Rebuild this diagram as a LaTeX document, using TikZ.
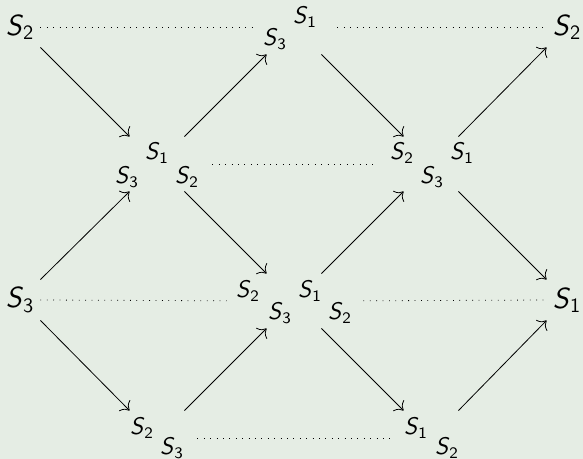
\documentclass[tikz,border=0pt]{standalone}
\usepackage{amsmath}
\usetikzlibrary{arrows.meta}
\definecolor{slidebg}{RGB}{229,237,228}
\newcommand{\gen}[1]{\textsf{\textit{S}}$_{\textsf{#1}}$}

\begin{document}
\begin{tikzpicture}[
  x=0.5pt,y=-0.5pt,
  lbl/.style={inner sep=0pt,font=\fontsize{12}{14}\selectfont},
  corner/.style={inner sep=0pt,minimum size=20pt,font=\fontsize{14.5}{16}\selectfont},
  spot/.style={inner sep=0pt,minimum size=27pt},
  arr/.style={-{To[scale=1.5]}},
  link/.style={dash pattern=on 0.4pt off 2.8pt}
]
\useasboundingbox (0,0) rectangle (583,459);
\fill[slidebg] (0,0) rectangle (583,459);

% outer words
\node[corner] (L1) at (20,27) {\gen{2}};
\node[corner] (R1) at (567,27) {\gen{2}};
\node[corner] (L2) at (20,300) {\gen{3}};
\node[corner] (R2) at (567,300) {\gen{1}};

% inner spots
\node[spot] (T) at (294,27) {};
\node[spot] (A) at (157,164) {};
\node[spot] (B) at (431,164) {};
\node[spot] (C) at (294,301) {};
\node[spot] (D) at (157,438) {};
\node[spot] (E) at (431,438) {};

\node[lbl] (t1) at (305,17) {\gen{1}};
\node[lbl] (t3) at (275,39) {\gen{3}};
\node[lbl] (a1) at (157,153) {\gen{1}};
\node[lbl] (a3) at (127,177) {\gen{3}};
\node[lbl] (a2) at (187,177) {\gen{2}};
\node[lbl] (b2) at (402,153) {\gen{2}};
\node[lbl] (b1) at (462,153) {\gen{1}};
\node[lbl] (b3) at (432,177) {\gen{3}};
\node[lbl] (c2l) at (248,291) {\gen{2}};
\node[lbl] (c1) at (310,291) {\gen{1}};
\node[lbl] (c3) at (280,313) {\gen{3}};
\node[lbl] (c2r) at (340,313) {\gen{2}};
\node[lbl] (d2) at (142,428) {\gen{2}};
\node[lbl] (d3) at (172,448) {\gen{3}};
\node[lbl] (e1) at (416,428) {\gen{1}};
\node[lbl] (e2) at (447,448) {\gen{2}};

% arrows
\draw[arr] (L1.south east) -- (A.north west);
\draw[arr] (A.north east) -- (T.south west);
\draw[arr] (T.south east) -- (B.north west);
\draw[arr] (B.north east) -- (R1.south west);
\draw[arr] (L2.north east) -- (A.south west);
\draw[arr] (L2.south east) -- (D.north west);
\draw[arr] (A.south east) -- (C.north west);
\draw[arr] (D.north east) -- (C.south west);
\draw[arr] (C.north east) -- (B.south west);
\draw[arr] (B.south east) -- (R2.north west);
\draw[arr] (C.south east) -- (E.north west);
\draw[arr] (E.north east) -- (R2.south west);

% dotted rows
\draw[link,shorten >=7pt] (L1.east) -- (T.west);
\draw[link,shorten <=8pt] (T.east) -- (R1.west);
\draw[link,shorten <=14pt,shorten >=13pt] (A.east) -- (B.west);
\draw[link,shorten >=20pt] (L2.east) -- (C.west);
\draw[link,shorten <=21pt] (C.east) -- (R2.west);
\draw[link,shorten <=6.5pt,shorten >=5.5pt] (D.east) -- (E.west);
\end{tikzpicture}
\end{document}
